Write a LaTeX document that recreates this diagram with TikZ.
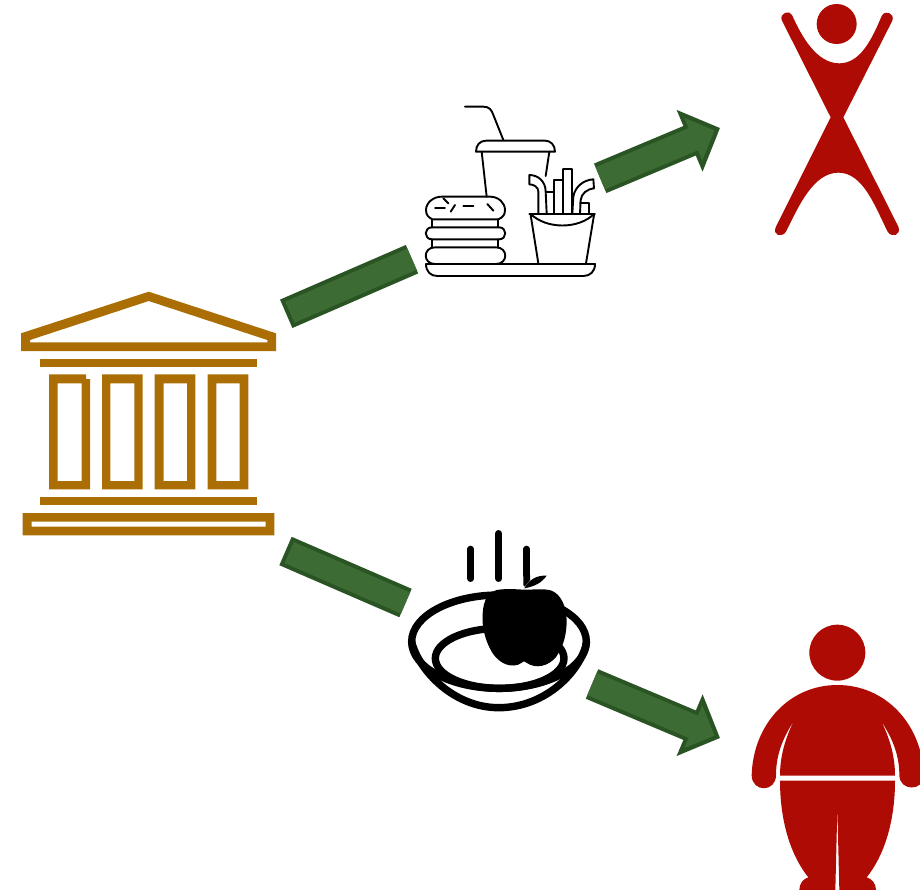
\documentclass[tikz,border=0pt]{standalone}
\usetikzlibrary{arrows.meta,shapes.geometric}
\definecolor{gold}{HTML}{AB6E05}
\definecolor{barfill}{HTML}{3C6C33}
\definecolor{barline}{HTML}{2A5424}
\definecolor{bodyred}{HTML}{AE0B04}
\tikzset{
  x=1pt,y=-1pt,
  zoomgrid/.style={x=0.33333pt,y=-0.33333pt},
  temple/.style={fill=gold,draw=none,even odd rule},
  icon/.style={draw=black,line width=1.9pt,line join=round,line cap=round,fill=none},
  bowl/.style={draw=black,line width=7.4pt,fill=none},
  steam/.style={draw=black,line width=6.6pt,line cap=round},
  person/.style={fill=bodyred,draw=none},
  baredge/.style={draw=barline,line width=31pt},
  barcore/.style={draw=barfill,line width=23pt,shorten <=4pt},
  arrowedge/.style={draw=barline,line width=32pt,-{Triangle[length=33pt,width=65pt]}},
  arrowcore/.style={draw=barfill,line width=24pt,shorten >=6pt,-{Triangle[length=23pt,width=45pt]}},
}
\begin{document}
\begin{tikzpicture}
\useasboundingbox (0,0) rectangle (920,889);
\clip (0,0) rectangle (920,889);
% bank
\fill[temple] (21,333.3) -- (148.7,291.7) -- (276,333.3) -- (276,351) -- (21,351) -- cycle
  (30,340) -- (148.7,301) -- (267.3,340) -- (267.3,342.3) -- (30,342.3) -- cycle;
\fill[temple] (40.3,359) rectangle (257,367.3);
\fill[temple] (40.3,497) rectangle (257,505.3);
\fill[temple] (49,374.3) -- (86,374.3) -- (86,379) -- (90,379) -- (90,489.3) -- (49,489.3) -- cycle
  (57.7,383.3) rectangle (81.7,481);
\fill[temple] (102,374.3) rectangle (142.7,489.3) (110.3,383.3) rectangle (134.3,481);
\fill[temple] (154.7,374.3) rectangle (195.3,489.3) (163.7,383.3) rectangle (187,481);
\fill[temple] (207.7,374.3) rectangle (248.3,489.3) (216.3,383.3) rectangle (239.7,481);
\fill[temple] (22.7,513) rectangle (274.3,535.3) (31.7,521.7) rectangle (265.7,526.7);
% food icon
\begin{scope}[shift={(400,90)},zoomgrid]
\draw[icon] (195,50) -- (250,50) .. controls (268,50) and (275,60) .. (280,75) -- (310,150);
\draw[icon] (228,185) .. controls (228,165) and (240,152) .. (258,152) -- (435,152) .. controls (452,152) and (465,165) .. (465,185) -- cycle;
\draw[icon] (245,185) -- (260,320);
\draw[icon] (448,185) -- (437,258);
% burger
\draw[icon] (97,388) .. controls (85,382) and (78,375) .. (78,360) .. controls (78,338) and (100,320) .. (125,320) -- (270,320) .. controls (295,320) and (315,338) .. (315,360) .. controls (315,375) and (308,382) .. (295,388) -- cycle;
\draw[icon] (96,412) -- (297,412) .. controls (322,412) and (322,448) .. (297,448) -- (96,448) .. controls (71,448) and (71,412) .. (96,412) -- cycle;
\draw[icon] (97,388) -- (97,412) (295,388) -- (295,412) (97,448) -- (97,472) (295,448) -- (295,472);
\draw[icon] (105,472) -- (288,472) .. controls (325,472) and (325,522) .. (288,522) -- (105,522) .. controls (68,522) and (68,472) .. (105,472) -- cycle;
\draw[icon] (105,354) -- (135,354) (190,348) -- (220,348) (130,325) -- (145,340) (152,365) -- (165,345) (262,342) -- (280,362);
% tray
\draw[icon] (78,522) -- (585,522) .. controls (585,545) and (570,558) .. (550,558) -- (112,558) .. controls (92,558) and (78,545) .. (78,522) -- cycle;
% fries
\draw[icon] (388,372) -- (585,372);
\draw[icon] (392,375) -- (415,520) (582,375) -- (558,520);
\draw[icon] (392,372) .. controls (440,418) and (535,418) .. (582,372);
\draw[icon] (415,370) -- (415,305) .. controls (415,292) and (402,283) .. (388,283) -- (388,255) .. controls (415,255) and (437,275) .. (437,305) -- (440,370);
\draw[icon] (440,305) -- (462,305) (462,370) -- (462,270) -- (490,270) -- (490,370);
\draw[icon] (490,237) -- (515,237) -- (515,370) (490,270) -- (490,237);
\draw[icon] (517,370) -- (520,320) .. controls (525,290) and (550,270) .. (580,268) -- (582,295) .. controls (560,298) and (545,310) .. (542,330) -- (540,370);
\draw[icon] (540,338) -- (567,338) -- (567,372);
\end{scope}
% apple and bowl
\begin{scope}[shift={(390,520)},zoomgrid]
\draw[bowl] (327,365) ellipse [x radius=262,y radius=140];
\draw[bowl] (65,365) .. controls (85,450) and (190,563) .. (326,563) .. controls (470,563) and (575,450) .. (590,365);
\draw[bowl] (329,415) ellipse [x radius=193,y radius=90];
\draw[steam] (242,87) -- (242,176);
\draw[steam] (326,40) -- (326,176);
\draw[steam] (410,87) -- (410,165);
\fill[black] (400,165) -- (420,165) -- (420,180) -- (404,200) -- (400,195) -- cycle;
\fill[black] (320,210) .. controls (350,205) and (380,208) .. (402,209) .. controls (425,210) and (460,204) .. (485,212) .. controls (515,225) and (528,260) .. (530,300) .. controls (530,345) and (520,375) .. (505,400) .. controls (490,430) and (450,448) .. (420,434) -- (402,424) -- (385,434) .. controls (350,445) and (320,420) .. (305,395) .. controls (285,360) and (275,320) .. (278,280) .. controls (280,240) and (295,218) .. (320,210) -- cycle;
\fill[black] (403,205) .. controls (415,180) and (440,165) .. (470,167) .. controls (455,190) and (430,200) .. (403,205) -- cycle;
\end{scope}
% thin person
\begin{scope}[shift={(760,0)},zoomgrid]
\fill[person] (230,72) circle [radius=60];
\fill[person] (65,60) .. controls (58,40) and (88,28) .. (96,45) .. controls (125,110) and (170,190) .. (238,190) .. controls (300,190) and (335,120) .. (365,48) .. controls (375,28) and (405,40) .. (397,62) -- (250,352) -- (415,680) .. controls (425,705) and (395,715) .. (383,695) .. controls (345,620) and (310,518) .. (235,518) .. controls (160,518) and (115,620) .. (78,695) .. controls (65,715) and (35,705) .. (48,680) -- (212,352) -- cycle;
\end{scope}
% heavy person
\begin{scope}[shift={(740,610)},zoomgrid]
\fill[person] (292,128) circle [radius=84];
\fill[person] (35,495) .. controls (40,340) and (150,225) .. (292,225) .. controls (435,225) and (545,340) .. (552,495) .. controls (552,545) and (478,545) .. (478,495) .. controls (478,425) and (450,375) .. (422,330) .. controls (450,385) and (465,440) .. (465,497) -- (120,497) .. controls (120,440) and (135,385) .. (163,330) .. controls (135,375) and (108,425) .. (108,495) .. controls (108,548) and (35,548) .. (35,495) -- cycle;
\fill[person] (120,512) -- (465,512) .. controls (465,640) and (430,740) .. (380,802) .. controls (395,806) and (408,820) .. (408,840) -- (298,840) -- (292,595) -- (286,840) -- (178,840) .. controls (178,820) and (190,806) .. (205,802) .. controls (155,740) and (120,640) .. (120,512) -- cycle;
\end{scope}
% connectors
\coordinate (bankUp) at (286.2,313.8);
\coordinate (foodIn) at (412,259.2);
\coordinate (foodOut) at (600.2,178.3);
\coordinate (thinIn) at (720,128);
\coordinate (bankDown) at (285.5,551);
\coordinate (appleIn) at (405.5,603);
\coordinate (appleOut) at (592,684);
\coordinate (heavyIn) at (720,738);
\draw[baredge] (bankUp) -- (foodIn);
\draw[barcore] (bankUp) -- (foodIn);
\draw[arrowedge] (foodOut) -- (thinIn);
\draw[arrowcore] (foodOut) -- (thinIn);
\draw[baredge] (bankDown) -- (appleIn);
\draw[barcore] (bankDown) -- (appleIn);
\draw[arrowedge] (appleOut) -- (heavyIn);
\draw[arrowcore] (appleOut) -- (heavyIn);
\end{tikzpicture}
\end{document}
